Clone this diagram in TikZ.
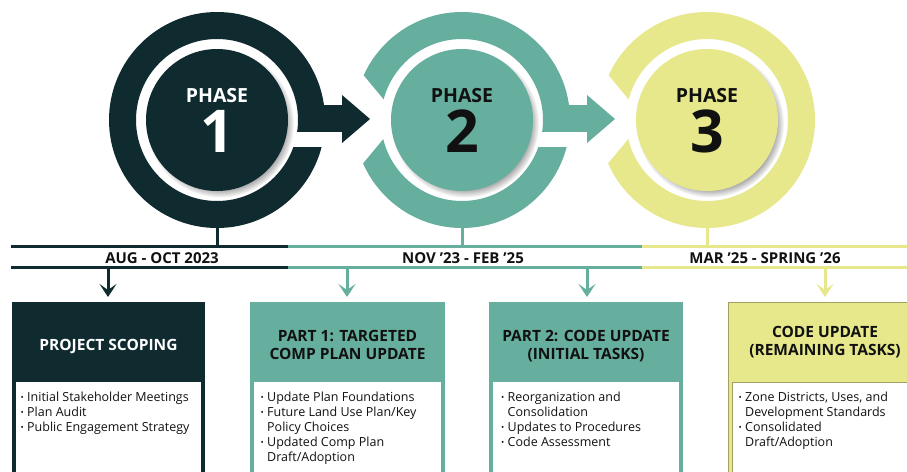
\documentclass[tikz,border=0pt]{standalone}
\usepackage{fontspec}
\setmainfont{Open Sans}
\usetikzlibrary{shadows,arrows.meta}
\definecolor{cdark}{HTML}{0F2B30}
\definecolor{cteal}{HTML}{66AE9D}
\definecolor{cyel}{HTML}{E6E88B}
\definecolor{ctext}{HTML}{111111}
\newcommand\bul{\makebox[6.5pt][l]{\raisebox{0.25ex}{\fontsize{8.5}{8}\selectfont\textbullet}}}
\newcommand\ind{\hspace*{6.5pt}}
\tikzset{
  disc/.style={circle, minimum size=142pt, inner sep=0pt,
    circular drop shadow={shadow xshift=3pt, shadow yshift=-3.5pt, shadow scale=1.04, opacity=0.9}},
  phase/.style={anchor=base, inner sep=0pt, font=\fontsize{19.5}{20}\selectfont\bfseries},
  num/.style={anchor=base, inner sep=0pt, font=\fontsize{59}{60}\selectfont\bfseries},
  tl/.style={anchor=base, inner sep=0pt, text=ctext, font=\fontsize{15}{16}\selectfont\bfseries},
  ttl/.style={anchor=base, inner sep=0pt, align=center, font=\fontsize{15.5}{18.3}\selectfont\bfseries},
  blist/.style={anchor=base west, inner sep=0pt, align=left, text=ctext, font=\fontsize{12.5}{15}\selectfont},
  tline/.style={line width=3pt},
  darr/.style={line width=3pt, -{Stealth[length=13pt,width=17pt,inset=6pt]}},
}
\begin{document}
\begin{tikzpicture}[x=1pt,y=-1pt]
\clip (0,0) rectangle (907,471);
\fill[white] (0,0) rectangle (907,471);
% centres
\coordinate (c1) at (217,120);
\coordinate (c2) at (462,120);
\coordinate (c3) at (707,120);
% rings
\fill[cdark,even odd rule] (c1) circle[radius=108pt] (c1) circle[radius=81pt];
\fill[cteal,even odd rule] (c2) circle[radius=108pt] (c2) circle[radius=81pt];
\fill[cyel,even odd rule] (c3) circle[radius=108pt] (c3) circle[radius=81pt];
% gaps cut by incoming arrows
\fill[white] (340,55) -- (352,61.5) -- (384,100) -- (384,138) -- (352,176.5) -- (340,183) -- cycle;
\fill[white] (585,55) -- (597,61.5) -- (629,100) -- (629,138) -- (597,176.5) -- (585,183) -- cycle;
% gaps under outgoing arrows
\fill[white] (285,132) rectangle (334,147);
\fill[white] (530,132) rectangle (579,147);
% arrows between phases
\fill[cdark] (298,105) rectangle (343,132);
\fill[cdark] (342,95) -- (370,119) -- (342,143) -- cycle;
\fill[cteal] (543,105) rectangle (588,132);
\fill[cteal] (587,95) -- (615,119) -- (587,143) -- cycle;
% inner discs
\node[disc, fill=cdark] (d1) at (c1) {};
\node[disc, fill=cteal] (d2) at (c2) {};
\node[disc, fill=cyel] (d3) at (c3) {};
\node[phase, text=white] (p1) at (217,102) {PHASE};
\node[num, text=white] (n1) at (217,152) {1};
\node[phase, text=ctext] (p2) at (462,102) {PHASE};
\node[num, text=ctext] (n2) at (462,152) {2};
\node[phase, text=ctext] (p3) at (707,102) {PHASE};
\node[num, text=ctext] (n3) at (707,152) {3};
% timeline
\coordinate (b1) at (217,226);
\coordinate (b2) at (462,226);
\coordinate (b3) at (707,226);
\coordinate (t1) at (217,246.5);
\coordinate (t2) at (462,246.5);
\coordinate (t3) at (707,246.5);
\draw[tline,cdark] (b1) -- (t1);
\draw[tline,cteal] (b2) -- (t2);
\draw[tline,cyel] (b3) -- (t3);
\draw[tline,cdark] (11,246.5) -- (288,246.5);
\draw[tline,cteal] (288,246.5) -- (642,246.5);
\draw[tline,cyel] (642,246.5) -- (907,246.5);
\draw[tline,cdark] (11,267.5) -- (288,267.5);
\draw[tline,cteal] (288,267.5) -- (642,267.5);
\draw[tline,cyel] (642,267.5) -- (907,267.5);
\node[tl] (l1) at (162,263.3) {AUG - OCT 2023};
\node[tl] (l2) at (463,263.3) {NOV ’23 - FEB ’25};
\node[tl] (l3) at (765,263.3) {MAR ’25 - SPRING ’26};
% down arrows
\coordinate (s1) at (108,268); \coordinate (e1) at (108,297);
\coordinate (s2) at (347,268); \coordinate (e2) at (347,297);
\coordinate (s3) at (587,268); \coordinate (e3) at (587,297);
\coordinate (s4) at (825,268); \coordinate (e4) at (825,297);
\draw[darr,cdark] (s1) -- (e1);
\draw[darr,cteal] (s2) -- (e2);
\draw[darr,cteal] (s3) -- (e3);
\draw[darr,cyel] (s4) -- (e4);
% boxes
\fill[cdark] (12,302) rectangle (205,480);
\fill[white] (16,382) rectangle (201,480);
\fill[cteal] (250,302) rectangle (445,480);
\fill[white] (254,382) rectangle (441,480);
\fill[cteal] (489,302) rectangle (683,480);
\fill[white] (493,382) rectangle (679,480);
\fill[cyel, draw=cyel!70!black, line width=0.4pt] (728,302) rectangle (922,480);
\fill[white, draw=cyel!70!black, line width=0.4pt] (732,382) rectangle (918,480);
% titles
\node[ttl, text=white] (h1) at (108.5,350) {PROJECT SCOPING};
\node[ttl, text=ctext] (h2) at (347.5,359.3) {PART 1: TARGETED\\COMP PLAN UPDATE};
\node[ttl, text=ctext] (h3) at (586,359.3) {PART 2: CODE UPDATE\\(INITIAL TASKS)};
\node[ttl, text=ctext] (h4) at (825,355.7) {CODE UPDATE\\(REMAINING TASKS)};
% lists
\node[blist] (q1) at (20.5,431.7) {\bul Initial Stakeholder Meetings\\\bul Plan Audit\\\bul Public Engagement Strategy};
\node[blist] (q2) at (260.5,461.7) {\bul Update Plan Foundations\\\bul Future Land Use Plan/Key\\\ind Policy Choices\\\bul Updated Comp Plan\\\ind Draft/Adoption};
\node[blist] (q3) at (501,446.7) {\bul Reorganization and\\\ind Consolidation\\\bul Updates to Procedures\\\bul Code Assessment};
\node[blist] (q4) at (738.5,446.7) {\bul Zone Districts, Uses, and\\\ind Development Standards\\\bul Consolidated\\\ind Draft/Adoption};
\end{tikzpicture}
\end{document}
